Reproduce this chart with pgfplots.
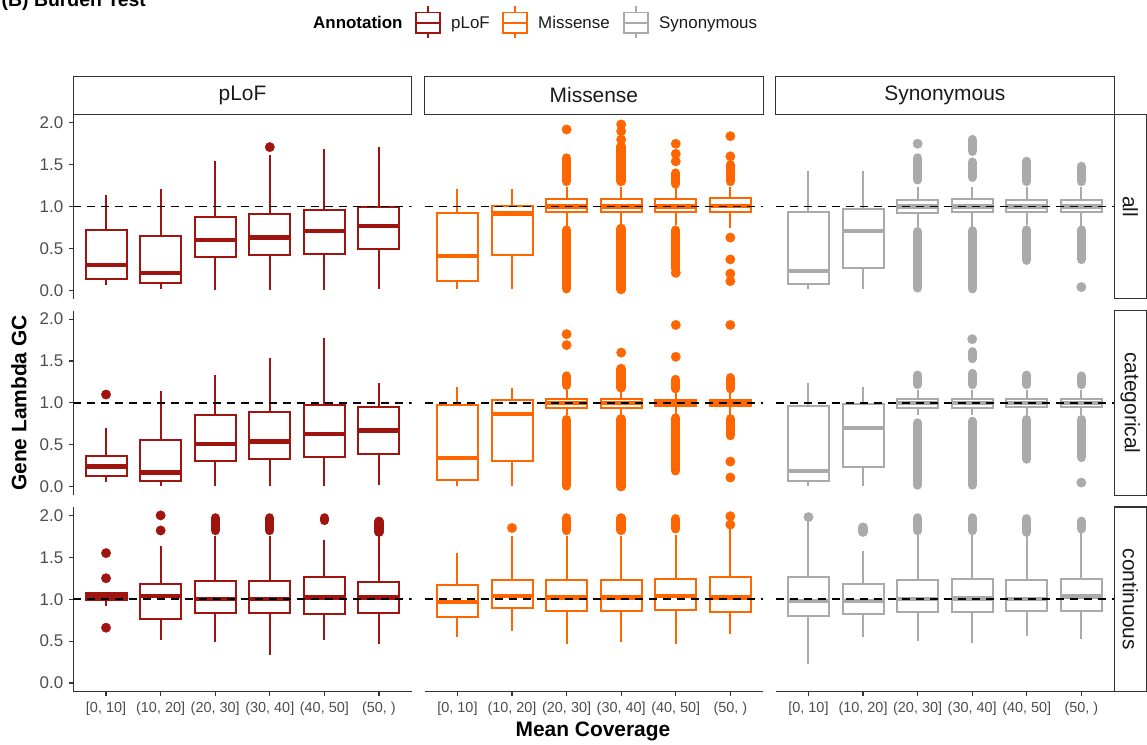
\documentclass[border=0pt]{standalone}
\usepackage{pgfplots}
\pgfplotsset{compat=1.18}
\usepgfplotslibrary{statistics}
\usepackage{fontspec}
\setmainfont{Liberation Sans}
\definecolor{cP}{RGB}{160,20,15}
\definecolor{cM}{RGB}{255,102,0}
\definecolor{cS}{RGB}{170,170,170}
\definecolor{gtick}{RGB}{77,77,77}
\definecolor{gline}{RGB}{51,51,51}
\definecolor{gtext}{RGB}{26,26,26}

\newcommand{\Bx}[7]{\addplot[#1, fill=white, line width=2bp, boxplot/draw direction=y, boxplot prepared={draw position=#2, lower whisker=#3, lower quartile=#4, median=#5, upper quartile=#6, upper whisker=#7}] coordinates {};}
\newcommand{\RunO}[4]{\addplot[#1, line width=9.4bp, line cap=round] coordinates {(#2,#3) (#2,#4)};}
\newcommand{\PtsO}[2]{\addplot[only marks, mark=*, mark size=4.7bp, color=#1, mark options={draw=none,fill=#1}] coordinates {#2};}
\newcommand{\RefLine}{\addplot[black, line width=1.7bp, dash pattern=on 8bp off 6bp] coordinates {(0.4,1) (6.6,1)};}

\pgfplotsset{
  panel/.style={width=338.4bp, height=184.4bp, scale only axis, xmin=0.4, xmax=6.6, ymin=-0.1, ymax=2.1, anchor=north west,
    boxplot/draw direction=y,
    boxplot/box extend=0.75, boxplot/whisker extend=0,
    boxplot/every median/.style={line width=4.4bp},
    axis line style={gline, line width=1.1bp},
    tick align=outside, major tick length=4.5bp,
    tick style={gline, line width=1.1bp},
    xtick={1,...,6}, ytick={0,0.5,1,1.5,2},
    yticklabels={0.0,0.5,1.0,1.5,2.0},
    xticklabels={{[0, 10]},{(10, 20]},{(20, 30]},{(30, 40]},{(40, 50]},{(50, )}},
    yticklabel style={font=\fontsize{17}{20}\selectfont, text=gtick, xshift=-2bp},
    xticklabel style={font=\fontsize{14.5}{17}\selectfont, text=gtick, yshift=-3bp},
  },
  withy/.style={axis y line*=left},
  noy/.style={axis y line=none, ytick=\empty},
  withx/.style={axis x line*=bottom},
  nox/.style={axis x line=none, xtick=\empty},
}

\begin{document}
\begin{tikzpicture}

% ---------------- Row 1: all ----------------
\begin{axis}[panel, at={(73.3bp,-114.4bp)}, withy, nox]
\Bx{cP}{1}{0.07}{0.14}{0.305}{0.72}{1.14}
\Bx{cP}{2}{0.02}{0.09}{0.21}{0.65}{1.21}
\Bx{cP}{3}{0.01}{0.40}{0.60}{0.88}{1.54}
\Bx{cP}{4}{0.01}{0.42}{0.63}{0.91}{1.62}
\Bx{cP}{5}{0.01}{0.44}{0.71}{0.96}{1.69}
\Bx{cP}{6}{0.02}{0.49}{0.77}{0.99}{1.71}
\PtsO{cP}{(4,1.71)}
\RefLine
\end{axis}

\begin{axis}[panel, at={(424.7bp,-114.4bp)}, noy, nox]
\Bx{cM}{1}{0.02}{0.115}{0.41}{0.92}{1.21}
\Bx{cM}{2}{0.02}{0.42}{0.92}{1.01}{1.21}
\Bx{cM}{3}{0.77}{0.94}{1.00}{1.09}{1.23}
\Bx{cM}{4}{0.79}{0.94}{1.00}{1.09}{1.23}
\Bx{cM}{5}{0.78}{0.94}{1.00}{1.09}{1.22}
\Bx{cM}{6}{0.75}{0.94}{1.01}{1.10}{1.23}
\RunO{cM}{3}{1.30}{1.58} \RunO{cM}{3}{0.02}{0.72} \PtsO{cM}{(3,1.92)}
\RunO{cM}{4}{1.30}{1.72} \RunO{cM}{4}{0.01}{0.74} \PtsO{cM}{(4,1.80)(4,1.90)(4,1.98)}
\RunO{cM}{5}{1.27}{1.40} \RunO{cM}{5}{0.26}{0.72} \PtsO{cM}{(5,1.54)(5,1.63)(5,1.75)(5,0.21)}
\RunO{cM}{6}{1.30}{1.50} \PtsO{cM}{(6,1.60)(6,1.84)(6,0.63)(6,0.37)(6,0.20)(6,0.11)}
\RefLine
\end{axis}

\begin{axis}[panel, at={(775.7bp,-114.4bp)}, noy, nox]
\Bx{cS}{1}{0.02}{0.075}{0.23}{0.94}{1.42}
\Bx{cS}{2}{0.02}{0.27}{0.71}{0.97}{1.42}
\Bx{cS}{3}{0.74}{0.92}{1.00}{1.08}{1.23}
\Bx{cS}{4}{0.76}{0.93}{1.00}{1.09}{1.23}
\Bx{cS}{5}{0.78}{0.93}{1.00}{1.08}{1.23}
\Bx{cS}{6}{0.76}{0.93}{1.00}{1.08}{1.23}
\RunO{cS}{3}{1.32}{1.58} \RunO{cS}{3}{0.03}{0.70} \PtsO{cS}{(3,1.75)}
\RunO{cS}{4}{1.35}{1.53} \RunO{cS}{4}{1.66}{1.80} \RunO{cS}{4}{0.02}{0.71}
\RunO{cS}{5}{1.30}{1.54} \RunO{cS}{5}{0.36}{0.72}
\RunO{cS}{6}{1.30}{1.48} \RunO{cS}{6}{0.37}{0.72} \PtsO{cS}{(6,0.04)}
\RefLine
\end{axis}

% ---------------- Row 2: categorical ----------------
\begin{axis}[panel, at={(73.3bp,-310.7bp)}, withy, nox]
\Bx{cP}{1}{0.06}{0.13}{0.24}{0.37}{0.70}
\Bx{cP}{2}{0.01}{0.07}{0.17}{0.56}{1.14}
\Bx{cP}{3}{0.01}{0.31}{0.51}{0.85}{1.33}
\Bx{cP}{4}{0.01}{0.33}{0.54}{0.89}{1.54}
\Bx{cP}{5}{0.01}{0.35}{0.63}{0.97}{1.78}
\Bx{cP}{6}{0.02}{0.39}{0.67}{0.95}{1.24}
\PtsO{cP}{(1,1.10)}
\RefLine
\end{axis}

\begin{axis}[panel, at={(424.7bp,-310.7bp)}, noy, nox]
\Bx{cM}{1}{0.01}{0.08}{0.34}{0.97}{1.19}
\Bx{cM}{2}{0.01}{0.31}{0.87}{1.03}{1.18}
\Bx{cM}{3}{0.85}{0.94}{1.00}{1.05}{1.15}
\Bx{cM}{4}{0.85}{0.94}{1.00}{1.05}{1.15}
\Bx{cM}{5}{0.85}{0.96}{1.00}{1.04}{1.15}
\Bx{cM}{6}{0.85}{0.96}{1.00}{1.04}{1.15}
\RunO{cM}{3}{1.21}{1.32} \RunO{cM}{3}{0.01}{0.80} \PtsO{cM}{(3,1.69)(3,1.82)}
\RunO{cM}{4}{1.18}{1.41} \RunO{cM}{4}{0.00}{0.81} \PtsO{cM}{(4,1.60)}
\RunO{cM}{5}{1.17}{1.28} \RunO{cM}{5}{0.19}{0.82} \PtsO{cM}{(5,1.55)(5,1.93)}
\RunO{cM}{6}{1.17}{1.30} \RunO{cM}{6}{0.61}{0.81} \PtsO{cM}{(6,1.93)(6,0.30)(6,0.11)}
\RefLine
\end{axis}

\begin{axis}[panel, at={(775.7bp,-310.7bp)}, noy, nox]
\Bx{cS}{1}{0.01}{0.07}{0.19}{0.96}{1.24}
\Bx{cS}{2}{0.01}{0.23}{0.70}{0.99}{1.19}
\Bx{cS}{3}{0.86}{0.94}{1.00}{1.05}{1.15}
\Bx{cS}{4}{0.86}{0.94}{1.00}{1.05}{1.15}
\Bx{cS}{5}{0.86}{0.95}{1.00}{1.05}{1.15}
\Bx{cS}{6}{0.86}{0.95}{1.00}{1.05}{1.15}
\RunO{cS}{3}{1.22}{1.33} \RunO{cS}{3}{0.02}{0.76}
\RunO{cS}{4}{1.22}{1.35} \RunO{cS}{4}{1.53}{1.61} \PtsO{cS}{(4,1.76)} \RunO{cS}{4}{0.02}{0.78}
\RunO{cS}{5}{1.22}{1.33} \RunO{cS}{5}{0.33}{0.80}
\RunO{cS}{6}{1.22}{1.32} \RunO{cS}{6}{0.35}{0.80} \PtsO{cS}{(6,0.05)}
\RefLine
\end{axis}

% ---------------- Row 3: continuous ----------------
\begin{axis}[panel, at={(73.3bp,-507.0bp)}, withy, withx]
\Bx{cP}{1}{0.92}{0.99}{1.03}{1.08}{1.08}
\Bx{cP}{2}{0.51}{0.76}{1.04}{1.18}{1.64}
\Bx{cP}{3}{0.49}{0.83}{1.00}{1.22}{1.75}
\Bx{cP}{4}{0.34}{0.83}{1.00}{1.22}{1.75}
\Bx{cP}{5}{0.51}{0.82}{1.02}{1.26}{1.71}
\Bx{cP}{6}{0.46}{0.84}{1.02}{1.21}{1.75}
\PtsO{cP}{(1,1.25)(1,1.55)(1,0.66)(2,1.82)(2,2.0)}
\RunO{cP}{3}{1.82}{1.97}
\RunO{cP}{4}{1.82}{1.97}
\RunO{cP}{5}{1.94}{1.97}
\RunO{cP}{6}{1.80}{1.93}
\RefLine
\end{axis}

\begin{axis}[panel, at={(424.7bp,-507.0bp)}, noy, withx]
\Bx{cM}{1}{0.55}{0.79}{0.97}{1.17}{1.55}
\Bx{cM}{2}{0.62}{0.89}{1.04}{1.23}{1.75}
\Bx{cM}{3}{0.46}{0.86}{1.02}{1.23}{1.75}
\Bx{cM}{4}{0.49}{0.86}{1.02}{1.23}{1.75}
\Bx{cM}{5}{0.47}{0.87}{1.04}{1.24}{1.77}
\Bx{cM}{6}{0.58}{0.85}{1.02}{1.26}{1.85}
\PtsO{cM}{(2,1.85)(6,1.89)(6,1.99)}
\RunO{cM}{3}{1.82}{1.97}
\RunO{cM}{4}{1.82}{1.97}
\RunO{cM}{5}{1.84}{1.96}
\RefLine
\end{axis}

\begin{axis}[panel, at={(775.7bp,-507.0bp)}, noy, withx]
\Bx{cS}{1}{0.23}{0.80}{0.98}{1.26}{1.95}
\Bx{cS}{2}{0.55}{0.82}{0.98}{1.18}{1.58}
\Bx{cS}{3}{0.50}{0.85}{1.00}{1.23}{1.77}
\Bx{cS}{4}{0.48}{0.85}{1.01}{1.24}{1.77}
\Bx{cS}{5}{0.56}{0.86}{1.00}{1.23}{1.75}
\Bx{cS}{6}{0.53}{0.86}{1.03}{1.24}{1.79}
\PtsO{cS}{(1,1.98)}
\RunO{cS}{2}{1.80}{1.86}
\RunO{cS}{3}{1.82}{1.97}
\RunO{cS}{4}{1.82}{1.97}
\RunO{cS}{5}{1.80}{1.96}
\RunO{cS}{6}{1.84}{1.93}
\RefLine
\end{axis}

% ---------------- strips, titles, legend ----------------
\begin{scope}[x=1bp,y=-1bp]
\foreach \L/\T in {73.3/pLoF, 424.7/Missense, 775.7/Synonymous}{
  \draw[gline, line width=1.1bp, fill=white] (\L,76.3) rectangle ++(338.4,38.1);
  \node[text=gtext, font=\fontsize{21}{24}\selectfont] at ({\L+169.2},95.3) {\T};
}
\foreach \Tp/\T in {114.4/all, 310.7/categorical, 507.0/continuous}{
  \draw[gline, line width=1.1bp, fill=white] (1114.1,\Tp) rectangle ++(32.4,184.4);
  \node[text=gtext, font=\fontsize{21}{24}\selectfont, rotate=-90] at (1130.3,{\Tp+92.2}) {\T};
}
\node[font=\bfseries\fontsize{21}{24}\selectfont, rotate=90] at (18.8,403) {Gene Lambda GC};
\node[font=\bfseries\fontsize{21}{24}\selectfont, anchor=base] at (593,736) {Mean Coverage};
\node[font=\bfseries\fontsize{19.5}{22}\selectfont, anchor=base west, inner sep=0] at (1.5,6.5) {(B) Burden Test};
% legend
\node[font=\bfseries\fontsize{17}{20}\selectfont, anchor=base west, inner sep=0] at (313,28.8) {Annotation};
\foreach \X/\C/\T in {416/cP/pLoF, 503/cM/Missense, 624/cS/Synonymous}{
  \draw[\C, line width=1.8bp] (\X,12.5) rectangle ++(24,20.5);
  \draw[\C, line width=1.8bp] (\X,22.7) -- ++(24,0);
  \draw[\C, line width=1.8bp] ({\X+12},6) -- ++(0,6.5) ({\X+12},33) -- ++(0,4.5);
  \node[font=\fontsize{17}{20}\selectfont, anchor=base west, inner sep=0, text=gtext] at ({\X+35},28.8) {\T};
}
\end{scope}
\pgfresetboundingbox
\path (0bp,0bp) rectangle (1147bp,-745bp);
\end{tikzpicture}
\end{document}
